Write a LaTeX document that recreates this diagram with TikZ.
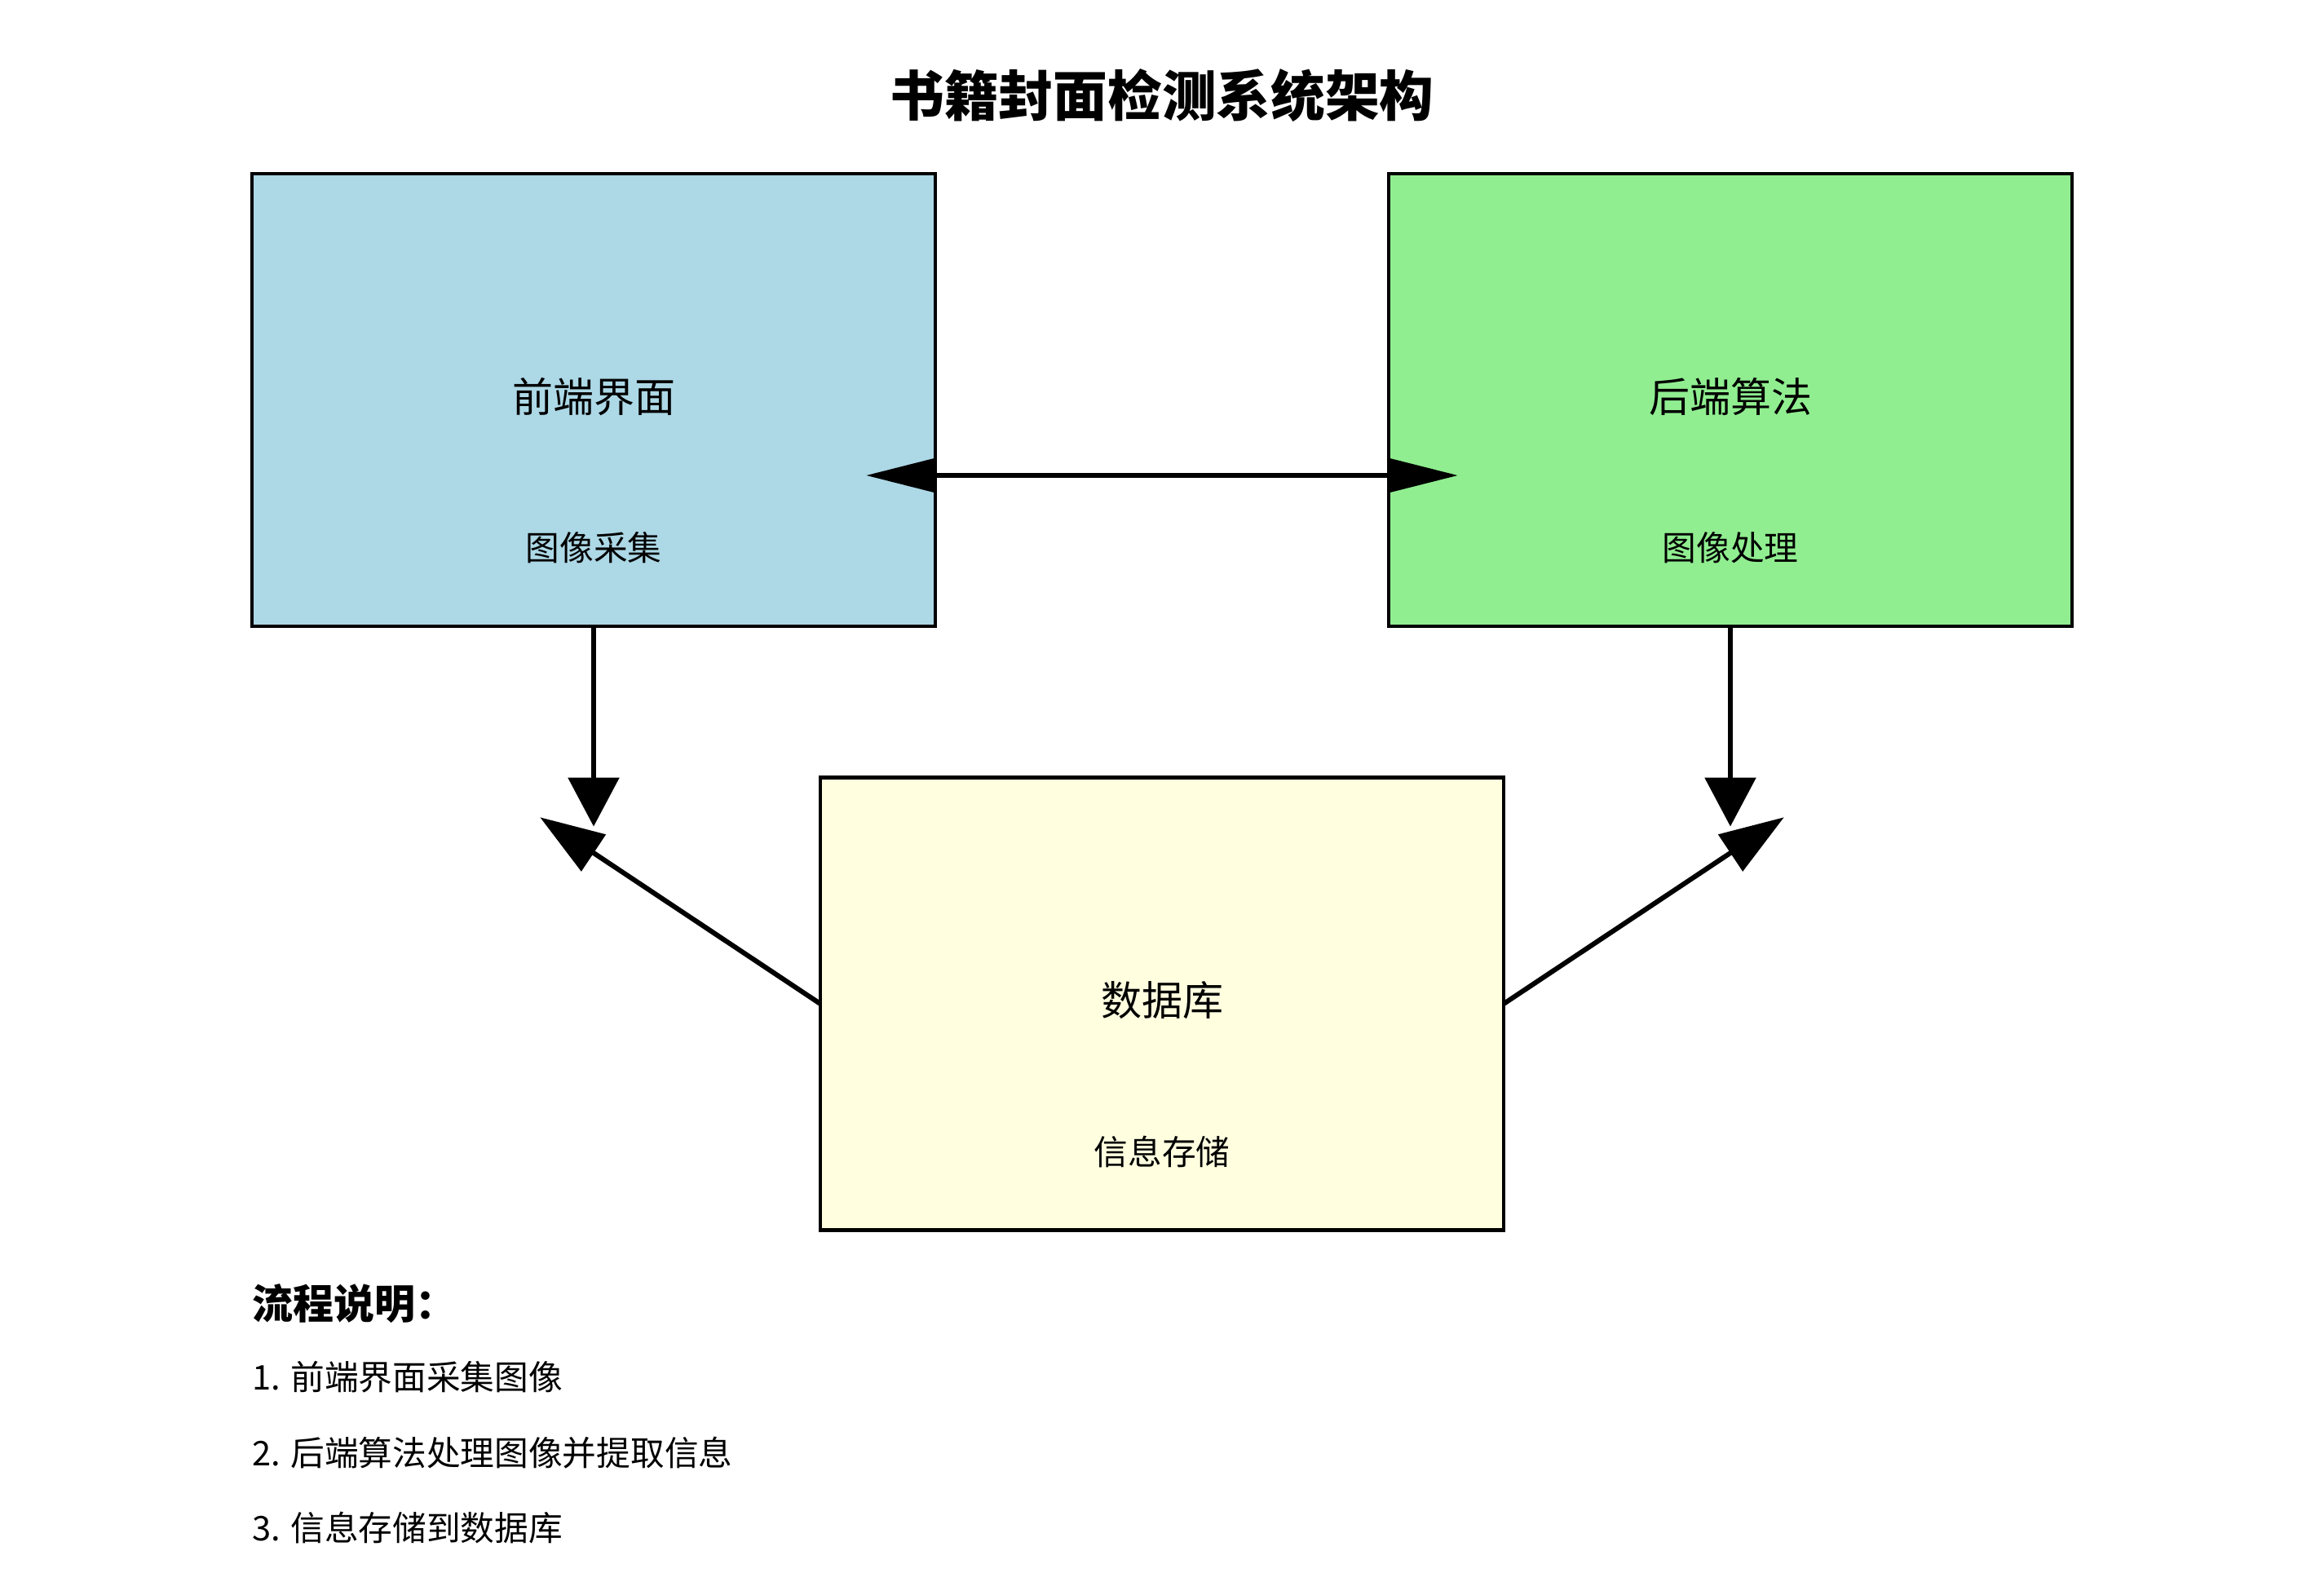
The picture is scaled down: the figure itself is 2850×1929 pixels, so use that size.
\documentclass[tikz,border=0pt]{standalone}
\usepackage{fontspec}
\setmainfont{Noto Sans CJK SC}
\usetikzlibrary{arrows.meta,calc}
\definecolor{boxblue}{HTML}{ADD8E6}
\definecolor{boxgreen}{HTML}{90EE90}
\definecolor{boxyellow}{HTML}{FFFFE0}
\begin{document}
\begin{tikzpicture}[x=1pt,y=1pt,
  box/.style={draw=black, line width=4.2pt, minimum width=838pt, minimum height=555pt, inner sep=0pt, outer sep=0pt},
  titletext/.style={inner sep=0pt, font=\fontsize{66.7}{80}\selectfont\bfseries},
  boxtitle/.style={inner sep=0pt, yshift=4pt, font=\fontsize{50}{60}\selectfont},
  boxsub/.style={inner sep=0pt, yshift=4pt, font=\fontsize{41.7}{50}\selectfont},
  headtext/.style={inner sep=0pt, anchor=west, yshift=2pt, font=\fontsize{50}{60}\selectfont\bfseries},
  listtext/.style={inner sep=0pt, anchor=west, yshift=4pt, font=\fontsize{41.7}{50}\selectfont},
  arrowline/.style={draw=black, line width=6pt},
  vtip/.style={-{Triangle[length=60pt,width=62pt]}},
  dtip/.style={-{Triangle[length=79pt,width=53pt]}}
]
\fill[white] (0,0) rectangle (2850,-1929);
\useasboundingbox (0,0) rectangle (2850,-1929);

\node[titletext] (title) at (1425,-117.5) {书籍封面检测系统架构};

\node[box, fill=boxblue] (fe) at (728,-490.5) {};
\node[box, fill=boxgreen] (be) at (2122,-490.5) {};
\node[box, fill=boxyellow] (db) at (1425,-1231) {};

\node[boxtitle] (fe-t) at (fe.center) {前端界面};
\node[boxsub] (fe-s) at ($(fe.center)+(0,-185)$) {图像采集};
\node[boxtitle] (be-t) at (be.center) {后端算法};
\node[boxsub] (be-s) at ($(be.center)+(0,-185)$) {图像处理};
\node[boxtitle] (db-t) at (db.center) {数据库};
\node[boxsub] (db-s) at ($(db.center)+(0,-185)$) {信息存储};

% connectors
\coordinate (feR) at ($(fe.east)+(0,-92.5)$);
\coordinate (beL) at ($(be.west)+(0,-92.5)$);
\draw[arrowline, {Triangle[length=85pt,width=41pt]}-{Triangle[length=85pt,width=41pt]}, shorten <=-85pt, shorten >=-85pt] (feR) -- (beL);

\coordinate (feD) at (fe.south |- db.north);
\coordinate (beD) at (be.south |- db.north);
\draw[arrowline, vtip, shorten >=-60pt] (fe.south) -- (feD);
\draw[arrowline, vtip, shorten >=-60pt] (be.south) -- (beD);

\coordinate (dl) at ($(feD)+(0,-92.5)$);
\coordinate (dr) at ($(beD)+(0,-92.5)$);
\draw[arrowline, dtip, shorten >=-79pt] (db.west) -- (dl);
\draw[arrowline, dtip, shorten >=-79pt] (db.east) -- (dr);

% notes
\node[headtext] (h) at (309,-1600.5) {流程说明：};
\node[listtext] (l1) at (309,-1693) {1. 前端界面采集图像};
\node[listtext] (l2) at (309,-1785.5) {2. 后端算法处理图像并提取信息};
\node[listtext] (l3) at (309,-1878) {3. 信息存储到数据库};
\end{tikzpicture}
\end{document}
